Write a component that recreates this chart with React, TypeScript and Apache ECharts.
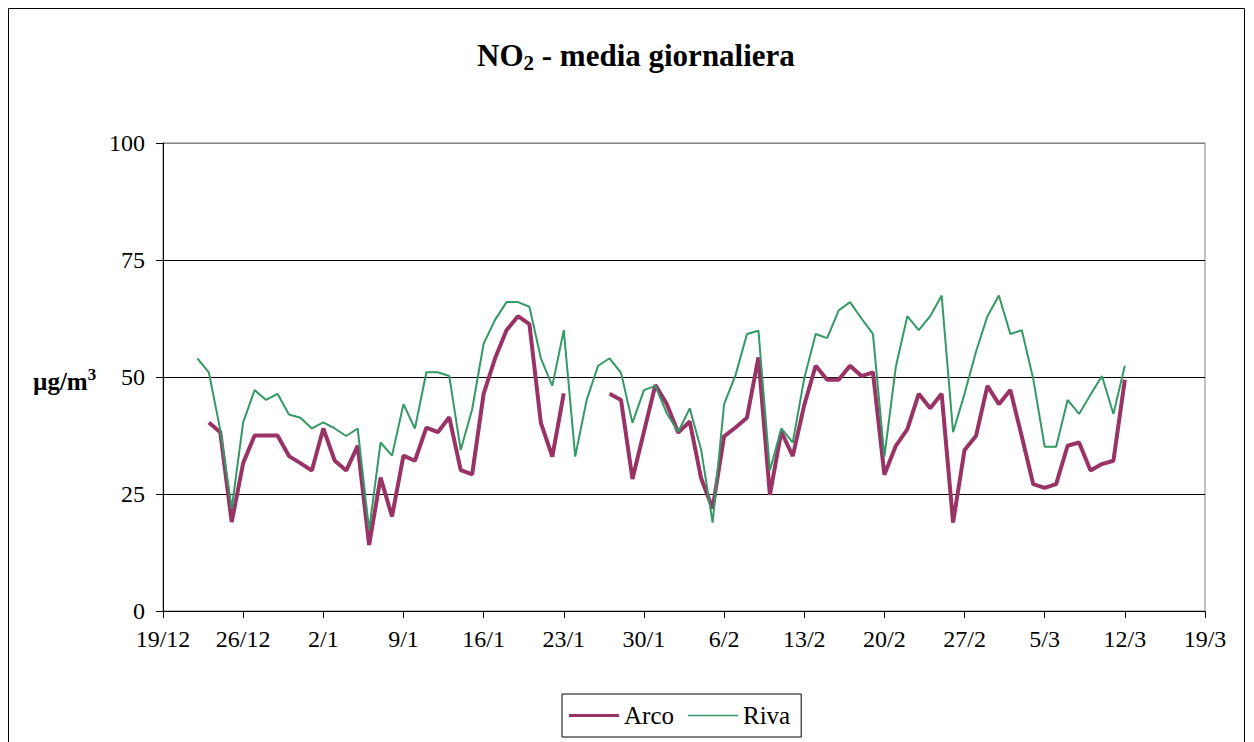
import React, { useEffect, useRef } from 'react';
import * as echarts from 'echarts';

const DAY = 86400000;
const axisStart = Date.UTC(2007, 11, 19);
const firstDate = Date.UTC(2007, 11, 22);

const tickLabels = ['19/12', '26/12', '2/1', '9/1', '16/1', '23/1', '30/1', '6/2', '13/2', '20/2', '27/2', '5/3', '12/3', '19/3'];

const arco: (number | null)[] = [
  null, 40.3, 38.2, 19.0, 31.6, 37.5, 37.5, 37.5, 33.1, 31.6,
  30.0, 39.0, 32.1, 30.0, 35.3, 14.1, 28.5, 20.2, 33.2, 32.1,
  39.2, 38.2, 41.4, 30.1, 29.2, 46.4, 54.0, 60.0, 63.0, 61.3,
  40.2, 33.0, 46.5, null, null, null, 46.4, 45.1, 28.2, 38.3,
  48.3, 44.2, 38.1, 40.5, 28.3, 21.9, 37.3, 39.2, 41.3, 54.2,
  24.8, 38.3, 33.1, 44.0, 52.4, 49.4, 49.4, 52.4, 50.2, 51.0,
  29.1, 35.3, 38.8, 46.4, 43.3, 46.4, 18.9, 34.4, 37.4, 48.1,
  44.2, 47.2, 37.3, 27.1, 26.3, 27.1, 35.3, 36.0, 30.0, 31.4,
  32.1, 49.4,
];

const riva: (number | null)[] = [
  54.0, 51.0, 38.7, 21.9, 40.3, 47.2, 45.1, 46.4, 42.0, 41.3,
  39.0, 40.3, 39.0, 37.4, 39.0, 17.3, 36.0, 33.2, 44.2, 39.0,
  51.0, 51.0, 50.2, 34.4, 43.1, 57.1, 62.2, 66.0, 66.0, 65.0,
  54.0, 48.1, 60.0, 33.0, 45.1, 52.4, 54.0, 50.9, 40.2, 47.2,
  48.1, 42.2, 38.3, 43.3, 34.4, 18.9, 44.2, 50.4, 59.2, 59.9,
  30.0, 39.0, 36.0, 49.7, 59.2, 58.3, 64.2, 66.0, 62.5, 59.2,
  33.0, 52.2, 63.0, 60.0, 63.0, 67.4, 38.2, 46.4, 55.4, 63.0,
  67.4, 59.2, 60.0, 49.6, 35.1, 35.1, 45.1, 42.1, 46.2, 50.2,
  42.1, 52.4,
];

// daily dates of the measurements (22/12/2007 ... 12/3/2008)
const dates: number[] = riva.map((_, i) => firstDate + i * DAY);

const FONT = 'Liberation Serif';

export default function App() {
  const ref = useRef<HTMLDivElement>(null);

  useEffect(() => {
    document.body.style.margin = '0';
    if (!ref.current) return;
    const chart = echarts.init(ref.current, undefined, { renderer: 'svg' });
    const toPairs = (vals: (number | null)[]) =>
      vals.map((v, i) => [(dates[i] - axisStart) / DAY, v == null ? '-' : v]);

    chart.setOption({
      animation: false,
      backgroundColor: '#fff',
      title: {
        text: '{a|NO}{b|2}{a| - media giornaliera}',
        left: 472,
        top: 32,
        textStyle: {
          rich: {
            a: { fontFamily: FONT, fontSize: 31, fontWeight: 'bold', color: '#000', lineHeight: 36 },
            b: { fontFamily: FONT, fontSize: 21, fontWeight: 'bold', color: '#000', lineHeight: 22, verticalAlign: 'bottom' },
          },
        },
      },
      graphic: [
        {
          type: 'rect',
          shape: { x: 8.5, y: 8.5, width: 1236, height: 800 },
          style: { fill: 'none', stroke: '#000', lineWidth: 1 },
          silent: true,
        },
        {
          type: 'text',
          left: 33,
          top: 366,
          style: {
            text: '{a|µg/m}{b|3}',
            rich: {
              a: { fontFamily: FONT, fontSize: 25, fontWeight: 'bold', fill: '#000', lineHeight: 30 },
              b: { fontFamily: FONT, fontSize: 17, fontWeight: 'bold', fill: '#000', lineHeight: 17, verticalAlign: 'top' },
            },
          },
        },
      ],
      legend: {
        left: 562,
        top: 694,
        itemWidth: 50,
        itemHeight: 14,
        itemGap: 14,
        padding: [9, 11, 9, 7],
        borderColor: '#000',
        borderWidth: 1,
        textStyle: { fontFamily: FONT, fontSize: 25, color: '#000' },
        data: [
          { name: 'Arco', icon: 'path://M0,5.5h50v3h-50z', itemStyle: { color: '#993366' } },
          { name: 'Riva', icon: 'path://M0,6.2h50v1.6h-50z', itemStyle: { color: '#339966' } },
        ],
      },
      grid: {
        left: 163,
        top: 143,
        right: 49,
        bottom: 131,
        show: true,
        borderColor: '#808080',
        borderWidth: 1,
        backgroundColor: 'transparent',
      },
      xAxis: {
        type: 'value',
        min: 0,
        max: 91,
        interval: 7,
        axisLine: { show: true, lineStyle: { color: '#000', width: 1 } },
        axisTick: { show: true, length: 7, lineStyle: { color: '#000' } },
        axisLabel: {
          margin: 16,
          fontFamily: FONT,
          fontSize: 24,
          color: '#000',
          formatter: (v: number) => tickLabels[Math.round(v / 7)] ?? '',
        },
        splitLine: { show: false },
      },
      yAxis: {
        type: 'value',
        min: 0,
        max: 100,
        interval: 25,
        axisLine: { show: true, lineStyle: { color: '#000', width: 1 } },
        axisTick: { show: true, length: 7, lineStyle: { color: '#000' } },
        axisLabel: { margin: 18, fontFamily: FONT, fontSize: 24, color: '#000' },
        splitLine: { show: true, lineStyle: { color: ['#000', '#000', '#000', '#000', '#808080'], width: 1 } },
      },
      series: [
        {
          name: 'Arco',
          type: 'line',
          data: toPairs(arco),
          symbol: 'none',
          connectNulls: false,
          lineStyle: { color: '#993366', width: 4 },
          itemStyle: { color: '#993366' },
        },
        {
          name: 'Riva',
          type: 'line',
          data: toPairs(riva),
          symbol: 'none',
          lineStyle: { color: '#339966', width: 2 },
          itemStyle: { color: '#339966' },
        },
      ],
    });
    return () => chart.dispose();
  }, []);

  return <div ref={ref} style={{ width: 1254, height: 742 }} />;
}
